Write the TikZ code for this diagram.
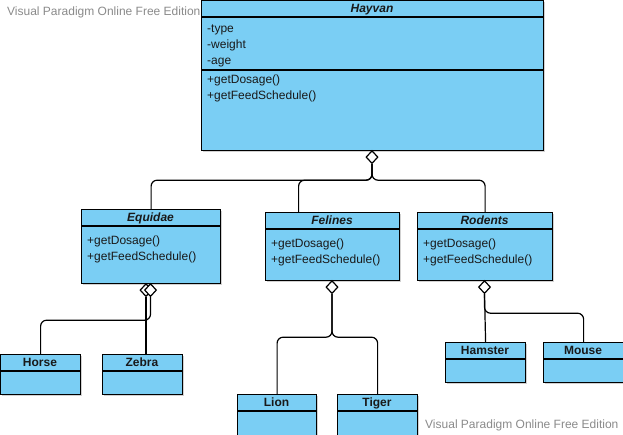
\documentclass[tikz,border=0pt]{standalone}
\usepackage{fontspec}
\setmainfont{Liberation Sans}
\usetikzlibrary{shapes.geometric,shadows}
\definecolor{classfill}{HTML}{7ACEF4}
\definecolor{markgray}{HTML}{8A8A8A}
\begin{document}
\begin{tikzpicture}[x=1pt,y=-1pt,
  font=\fontsize{12pt}{14pt}\selectfont,
  classbox/.style={draw=black,line width=1.2pt,fill=classfill,anchor=north west,
    inner sep=0pt,drop shadow={shadow xshift=1.5pt,shadow yshift=-1.5pt,fill=black!18,opacity=1}},
  sep/.style={line width=1.2pt},
  abstractname/.style={anchor=base,inner sep=0pt,font=\fontsize{12pt}{14pt}\selectfont\bfseries\itshape,text=black!90},
  concretename/.style={anchor=base,inner sep=0pt,font=\fontsize{12pt}{14pt}\selectfont\bfseries,text=black!90},
  member/.style={anchor=base west,inner sep=0pt,text=black!90},
  agg/.style={diamond,draw=black,fill=white,line width=1.2pt,inner sep=0pt,
    minimum width=12pt,minimum height=13pt,anchor=north},
  conn/.style={draw=black,line width=1.2pt,rounded corners=6pt},
  watermark/.style={anchor=base west,inner sep=0pt,text=markgray}]
\useasboundingbox (0,0) rectangle (623,434);

% watermarks
\node[watermark] (wmtop) at (7,15.5) {Visual Paradigm Online Free Edition};
\node[watermark] (wmbottom) at (425,428.5) {Visual Paradigm Online Free Edition};

% ---- Hayvan ----
\node[classbox,minimum width=342pt,minimum height=150pt] (hayvan) at (201,0) {};
\draw[sep] (201,17) -- (543,17);
\draw[sep] (201,70) -- (543,70);
\node[abstractname] (hayvanname) at (372,12) {Hayvan};
\node[member] (ha1) at (207,32) {-type};
\node[member] (ha2) at (207,48) {-weight};
\node[member] (ha3) at (207,64) {-age};
\node[member] (hm1) at (207,83.5) {+getDosage()};
\node[member] (hm2) at (207,99.5) {+getFeedSchedule()};

% ---- Equidae ----
\node[classbox,minimum width=139pt,minimum height=74pt] (equidae) at (81,209) {};
\draw[sep] (81,226) -- (220,226);
\node[abstractname] (equidaename) at (150.5,221) {Equidae};
\node[member] (em1) at (87,244.5) {+getDosage()};
\node[member] (em2) at (87,260.5) {+getFeedSchedule()};

% ---- Felines ----
\node[classbox,minimum width=134pt,minimum height=68pt] (felines) at (265,212) {};
\draw[sep] (265,229) -- (399,229);
\node[abstractname] (felinesname) at (332,224) {Felines};
\node[member] (fm1) at (271,247) {+getDosage()};
\node[member] (fm2) at (271,263) {+getFeedSchedule()};

% ---- Rodents ----
\node[classbox,minimum width=135pt,minimum height=68pt] (rodents) at (417,212) {};
\draw[sep] (417,229) -- (552,229);
\node[abstractname] (rodentsname) at (484.5,224) {Rodents};
\node[member] (rm1) at (423,247) {+getDosage()};
\node[member] (rm2) at (423,263) {+getFeedSchedule()};

% ---- leaf classes ----
\node[classbox,minimum width=80pt,minimum height=40pt] (horse) at (0,354) {};
\draw[sep] (0,371) -- (80,371);
\node[concretename] (horsename) at (40,366) {Horse};

\node[classbox,minimum width=80pt,minimum height=40pt] (zebra) at (102,354) {};
\draw[sep] (102,371) -- (182,371);
\node[concretename] (zebraname) at (142,366) {Zebra};

\node[classbox,minimum width=79pt,minimum height=44pt] (lion) at (237,394) {};
\draw[sep] (237,411) -- (316,411);
\node[concretename] (lionname) at (276.5,406) {Lion};

\node[classbox,minimum width=80pt,minimum height=44pt] (tiger) at (337,394) {};
\draw[sep] (337,411) -- (417,411);
\node[concretename] (tigername) at (377,406) {Tiger};

\node[classbox,minimum width=80pt,minimum height=40pt] (hamster) at (445,342) {};
\draw[sep] (445,359) -- (525,359);
\node[concretename] (hamstername) at (485,354) {Hamster};

\node[classbox,minimum width=80pt,minimum height=40pt] (mouse) at (543,342) {};
\draw[sep] (543,359) -- (623,359);
\node[concretename] (mousename) at (583,354) {Mouse};

% ---- aggregation diamonds ----
\node[agg] (hdia) at (372,150) {};
\node[agg] (edia1) at (146,283) {};
\node[agg] (edia2) at (150.5,283) {};
\node[agg] (fdia) at (332,280) {};
\node[agg] (rdia) at (484.5,280) {};

% ---- connectors ----
\draw[conn] (hdia.south) -- ++(0,16) -| (equidae.north);
\draw[conn] (hdia.south) -- ++(0,16) -| ([xshift=-34pt]felines.north);
\draw[conn] (hdia.south) -- ++(0,16) -| (rodents.north);

\draw[conn] (edia1.south) -- (edia1.south |- zebra.north);
\draw[conn] (edia2.south) -- ++(0,23) -| (horse.north);

\draw[conn] (fdia.south) -- ++(0,43) -| (lion.north);
\draw[conn] (fdia.south) -- ++(0,43) -| (tiger.north);

\draw[conn] (rdia.south) -- (hamster.north);
\draw[conn] (rdia.south) -- ++(0,19) -| (mouse.north);
\end{tikzpicture}
\end{document}
